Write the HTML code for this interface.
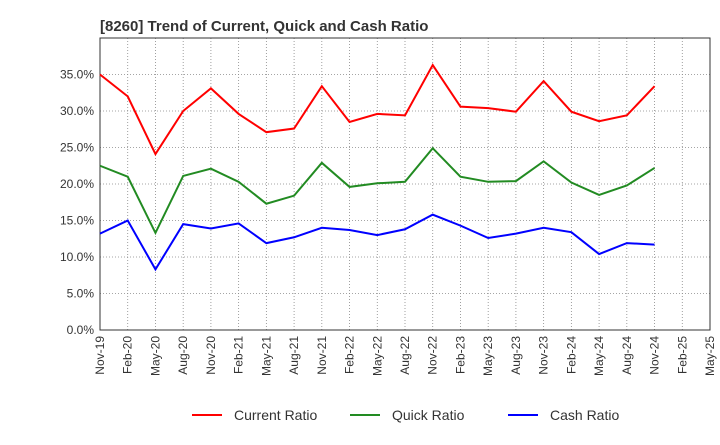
<!DOCTYPE html>
<html><head><meta charset="utf-8"><style>
body{margin:0;background:#fff;font-family:"Liberation Sans",Arial,sans-serif;}
</style></head><body>
<svg id="chart" width="720" height="440" xmlns="http://www.w3.org/2000/svg"></svg>
<script>
const categories=["Nov-19","Feb-20","May-20","Aug-20","Nov-20","Feb-21","May-21","Aug-21","Nov-21","Feb-22","May-22","Aug-22","Nov-22","Feb-23","May-23","Aug-23","Nov-23","Feb-24","May-24","Aug-24","Nov-24","Feb-25","May-25"];
const currentRatio=[35.0,32.0,24.1,30.0,33.1,29.6,27.1,27.6,33.4,28.5,29.6,29.4,36.3,30.6,30.4,29.9,34.1,29.9,28.6,29.4,33.4];
const quickRatio=[22.5,21.0,13.3,21.1,22.1,20.3,17.3,18.4,22.9,19.6,20.1,20.3,24.9,21.0,20.3,20.4,23.1,20.2,18.5,19.8,22.2];
const cashRatio=[13.2,15.0,8.3,14.5,13.9,14.6,11.9,12.7,14.0,13.7,13.0,13.8,15.8,14.3,12.6,13.2,14.0,13.4,10.4,11.9,11.7];
const yTicks=[0,5,10,15,20,25,30,35];
const yTickLabels=["0.0%","5.0%","10.0%","15.0%","20.0%","25.0%","30.0%","35.0%"];

const svg=document.getElementById('chart');
const NS="http://www.w3.org/2000/svg";
const L=100,R=710,T=38,B=330,YMAX=40;
const x=i=>L+(R-L)*i/(categories.length-1);
const y=v=>B-(B-T)*v/YMAX;
function mk(tag,attrs,parent){const e=document.createElementNS(NS,tag);for(const k in attrs)e.setAttribute(k,attrs[k]);(parent||svg).appendChild(e);return e;}

const title=mk('text',{x:100,y:31,'font-size':15,'font-weight':'bold',fill:'#333'});


title.textContent="[8260]  Trend of Current, Quick and Cash Ratio";

const grid=mk('g',{});


yTicks.forEach((t,i)=>{
  const gl=mk('line',{x1:L,x2:R,y1:y(t),y2:y(t),stroke:'#888','stroke-width':0.8,'stroke-dasharray':'1,2'},grid);
  
  
  const tl=mk('text',{x:L-6,y:y(t)+4,'text-anchor':'end','font-size':12,fill:'#333'});
  
  
  tl.textContent=yTickLabels[i];
});
categories.forEach((c,i)=>{
  const gl=mk('line',{x1:x(i),x2:x(i),y1:T,y2:B,stroke:'#888','stroke-width':0.8,'stroke-dasharray':'1,2'},grid);
  
  
  const tl=mk('text',{transform:`translate(${x(i)+4},${B+6}) rotate(-90)`,'text-anchor':'end','font-size':12,fill:'#333'});
  
  
  tl.textContent=c;
});
const frame=mk('rect',{x:L,y:T,width:R-L,height:B-T,fill:'none',stroke:'#333','stroke-width':1});



function series(data,color,name){
  const p=mk('polyline',{points:data.map((v,i)=>x(i)+','+y(v)).join(' '),fill:'none',stroke:color,'stroke-width':2});
  
  
}
series(currentRatio,'#ff0000','current-ratio-line');
series(quickRatio,'#228b22','quick-ratio-line');
series(cashRatio,'#0000ff','cash-ratio-line');

const legend=[["Current Ratio","#ff0000",192],["Quick Ratio","#228b22",350],["Cash Ratio","#0000ff",508]];
legend.forEach(([n,c,lx])=>{
  const g=mk('g',{});
  
  
  mk('line',{x1:lx,x2:lx+30,y1:415,y2:415,stroke:c,'stroke-width':2},g);
  const t=mk('text',{x:lx+42,y:420,'font-size':14,fill:'#333'},g);
  t.textContent=n;
});
</script>
</body></html>
